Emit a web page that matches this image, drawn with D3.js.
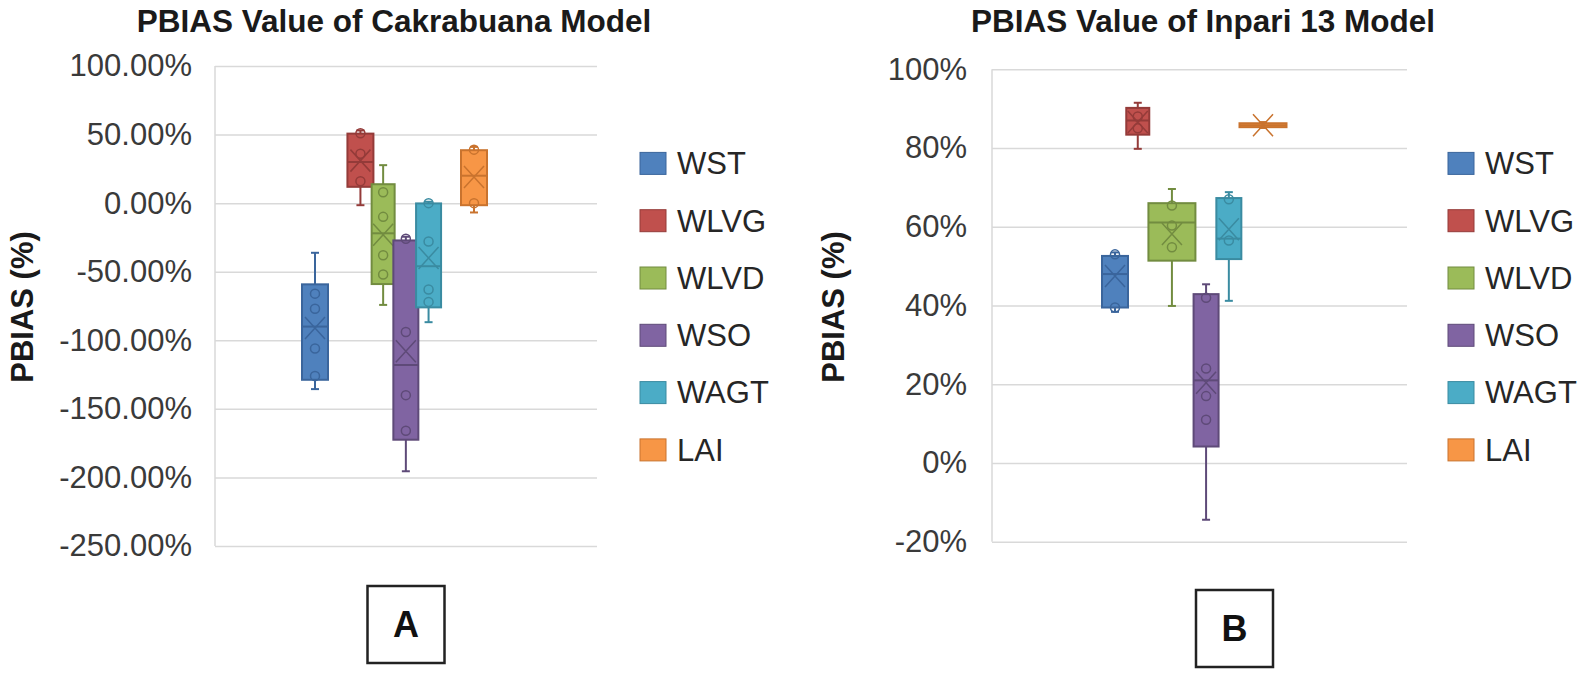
<!DOCTYPE html>
<html>
<head>
<meta charset="utf-8">
<script src="https://d3js.org/d3.v7.min.js"></script>
<style>
  body { margin: 0; background: #fff; }
  svg { font-family: "Liberation Sans", Arial, sans-serif; }
</style>
</head>
<body>
<script>
// series names
var series = ["WST", "WLVG", "WLVD", "WSO", "WAGT", "LAI"];

// chart A - Cakrabuana (values in %)
var cakMin = [-135.6, -1.5, -74.2, -195.5, -86.8, -6.8];
var cakQ1 = [-128.8, 11.9, -59, -172.5, -76, -1.5];
var cakMedian = [-90, 30, -22, -118, -46, 20];
var cakQ3 = [-59.2, 50.7, 13.8, -27.2, -0.2, 38.6];
var cakMax = [-36.2, 53, 27.7, -24.5, 1, 41];
var cakMean = [-91, 31, -23, -108, -40, 19];
var cakPoints = [[-66, -77, -106, -126], [51, 36, 16], [8, -10, -38, -52], [-26, -94, -140, -166], [0, -28, -63, -72], [39, 0]];
var cakTicks = [100, 50, 0, -50, -100, -150, -200, -250];

// chart B - Inpari 13 (values in %)
var inpMin = [38.4, 79.8, 39.9, -14.4, 41.2, 85.1];
var inpQ1 = [39.5, 83.4, 51.4, 4.2, 51.8, 85.3];
var inpMedian = [48, 87, 61.1, 21, 57, 85.8];
var inpQ3 = [52.6, 90.2, 66, 42.9, 67.3, 86.3];
var inpMax = [53.5, 91.5, 69.6, 45.4, 68.8, 86.6];
var inpMean = [47.5, 86.6, 58.2, 20.4, 59.4, 85.8];
var inpPoints = [[53, 39.5], [88, 85], [65.4, 60.3, 54.8], [42, 24, 17, 11], [67, 56.5], []];
var inpTicks = [100, 80, 60, 40, 20, 0, -20];

var fills = ["#4F81BD", "#C0504D", "#9BBB59", "#8064A2", "#4BACC6", "#F79646"];
var strokes = ["#3A659C", "#943B39", "#728C40", "#5E4A78", "#3A8BA1", "#C9732E"];

function buildRows(mins, q1s, meds, q3s, maxs, means, pts) {
    return series.map(function (s, i) {
        return { name: s, i: i, min: mins[i], q1: q1s[i], med: meds[i], q3: q3s[i], max: maxs[i], mean: means[i], pts: pts[i] };
    });
}

function drawChart(svg, cfg) {
    var g = svg.append("g")
        .attr("transform", "translate(" + cfg.left + "," + cfg.top + ")");

    var y = d3.scaleLinear().domain(cfg.domain).range([cfg.h, 0]);
    // slot positions of the boxes inside the single category
    var x = d3.scaleLinear().domain([0, cfg.slotMax]).range(cfg.slotRange);

    //gridlines + tick labels
    var axis = d3.axisLeft(y)
        .tickValues(cfg.ticks)
        .tickFormat(cfg.fmt)
        .tickSizeInner(-cfg.w)
        .tickSizeOuter(0)
        .tickPadding(cfg.pad);
    var ax = g.append("g").call(axis);
    ax.select(".domain").remove();
    ax.selectAll(".tick line").attr("stroke", "#d9d9d9").attr("stroke-width", 1.5);
    ax.selectAll(".tick text")
        .attr("fill", "#3a3a3a")
        .style("font-size", "31px");

    g.append("line")
        .attr("x1", 0).attr("x2", 0)
        .attr("y1", 0).attr("y2", cfg.h)
        .attr("stroke", "#d9d9d9")
        .attr("stroke-width", 1.5);

    var boxes = g.selectAll("g.box")
        .data(cfg.rows)
        .enter()
        .append("g")
        .attr("class", "box")
        .attr("transform", function (d) {
            return "translate(" + x(cfg.slots[d.i]) + ",0)";
        });

    //whiskers
    boxes.append("line")
        .attr("y1", function (d) { return y(d.max); })
        .attr("y2", function (d) { return y(d.q3); })
        .attr("stroke", function (d) { return strokes[d.i]; })
        .attr("stroke-width", 2);
    boxes.append("line")
        .attr("y1", function (d) { return y(d.q1); })
        .attr("y2", function (d) { return y(d.min); })
        .attr("stroke", function (d) { return strokes[d.i]; })
        .attr("stroke-width", 2);
    boxes.append("line")
        .attr("x1", -4).attr("x2", 4)
        .attr("y1", function (d) { return y(d.max); })
        .attr("y2", function (d) { return y(d.max); })
        .attr("stroke", function (d) { return strokes[d.i]; })
        .attr("stroke-width", 2);
    boxes.append("line")
        .attr("x1", -4).attr("x2", 4)
        .attr("y1", function (d) { return y(d.min); })
        .attr("y2", function (d) { return y(d.min); })
        .attr("stroke", function (d) { return strokes[d.i]; })
        .attr("stroke-width", 2);

    //box
    boxes.append("rect")
        .attr("x", function (d) { return -cfg.widths[d.i] / 2; })
        .attr("width", function (d) { return cfg.widths[d.i]; })
        .attr("y", function (d) { return y(d.q3); })
        .attr("height", function (d) { return Math.max(y(d.q1) - y(d.q3), 1); })
        .attr("fill", function (d) { return fills[d.i]; })
        .attr("stroke", function (d) { return strokes[d.i]; })
        .attr("stroke-width", 2);

    //median
    boxes.append("line")
        .attr("x1", function (d) { return -cfg.widths[d.i] / 2; })
        .attr("x2", function (d) { return cfg.widths[d.i] / 2; })
        .attr("y1", function (d) { return y(d.med); })
        .attr("y2", function (d) { return y(d.med); })
        .attr("stroke", function (d) { return strokes[d.i]; })
        .attr("stroke-width", 2);

    //inner points
    boxes.selectAll("circle")
        .data(function (d) { return d.pts.map(function (p) { return { v: p, i: d.i }; }); })
        .enter()
        .append("circle")
        .attr("cy", function (p) { return y(p.v); })
        .attr("r", 4.5)
        .attr("fill", "none")
        .attr("stroke", function (p) { return strokes[p.i]; })
        .attr("stroke-width", 1.5);

    //mean marker (X)
    boxes.append("path")
        .attr("d", function (d) {
            var hx = Math.min(cfg.widths[d.i] / 2, 10), hy = 11, cy = y(d.mean);
            return "M" + (-hx) + "," + (cy - hy) + "L" + hx + "," + (cy + hy) +
                "M" + hx + "," + (cy - hy) + "L" + (-hx) + "," + (cy + hy);
        })
        .attr("fill", "none")
        .attr("stroke", function (d) { return strokes[d.i]; })
        .attr("stroke-width", 1.5);

    //title
    svg.append("text")
        .attr("x", cfg.titleX)
        .attr("y", 32)
        .attr("text-anchor", "middle")
        .attr("font-weight", "bold")
        .attr("fill", "#1a1a1a")
        .style("font-size", "31.5px")
        .text(cfg.title);

    //y axis title
    svg.append("text")
        .attr("transform", "translate(" + cfg.yTitleX + ",307) rotate(-90)")
        .attr("text-anchor", "middle")
        .attr("dominant-baseline", "central")
        .attr("font-weight", "bold")
        .attr("fill", "#1a1a1a")
        .style("font-size", "31px")
        .text("PBIAS (%)");

    //legend
    var leg = svg.selectAll("g.leg" + cfg.id)
        .data(series)
        .enter()
        .append("g")
        .attr("class", "leg" + cfg.id)
        .attr("transform", function (d, i) {
            return "translate(" + cfg.legendX + "," + (163.4 + i * 57.3) + ")";
        });
    leg.append("rect")
        .attr("x", 0).attr("y", -11)
        .attr("width", 26).attr("height", 22)
        .attr("fill", function (d, i) { return fills[i]; })
        .attr("stroke", function (d, i) { return strokes[i]; })
        .attr("stroke-width", 1);
    leg.append("text")
        .attr("x", 37)
        .attr("dy", "0.35em")
        .attr("fill", "#262626")
        .style("font-size", "31px")
        .text(function (d) { return d; });

    //panel label
    var lab = svg.append("g")
        .attr("transform", "translate(" + cfg.labelX + "," + cfg.labelY + ")");
    lab.append("rect")
        .attr("x", -38.5).attr("y", -38.5)
        .attr("width", 77).attr("height", 77)
        .attr("fill", "none")
        .attr("stroke", "#222")
        .attr("stroke-width", 2.5);
    lab.append("text")
        .attr("text-anchor", "middle")
        .attr("dy", "0.36em")
        .attr("font-weight", "bold")
        .attr("fill", "#111")
        .style("font-size", "36px")
        .text(cfg.label);
}

function init() {
    var svg = d3.select("body")
        .append("svg")
        .attr("width", 1595)
        .attr("height", 674);

    drawChart(svg, {
        id: "a", left: 215, top: 66, w: 382, h: 480,
        domain: [-250, 100], ticks: cakTicks,
        // plain hyphen for negatives, like the original
        fmt: function (v) { return v.toFixed(2) + "%"; },
        pad: 23,
        slotMax: 7, slotRange: [100, 259], slots: [0, 2, 3, 4, 5, 7],
        widths: [26, 26, 23, 25, 25, 26],
        rows: buildRows(cakMin, cakQ1, cakMedian, cakQ3, cakMax, cakMean, cakPoints),
        title: "PBIAS Value of Cakrabuana Model", titleX: 394,
        yTitleX: 22, legendX: 640,
        label: "A", labelX: 406, labelY: 624.5
    });

    drawChart(svg, {
        id: "b", left: 992, top: 69.3, w: 415, h: 472.5,
        domain: [-20, 100], ticks: inpTicks,
        fmt: function (v) { return v + "%"; },
        pad: 25,
        slotMax: 13, slotRange: [123, 271], slots: [0, 2, 5, 8, 10, 13],
        widths: [26, 23, 47, 25, 25, 47],
        rows: buildRows(inpMin, inpQ1, inpMedian, inpQ3, inpMax, inpMean, inpPoints),
        title: "PBIAS Value of Inpari 13 Model", titleX: 1203,
        yTitleX: 833, legendX: 1448,
        label: "B", labelX: 1234.5, labelY: 628.5
    });
}
window.onload = init;
</script>
</body>
</html>
